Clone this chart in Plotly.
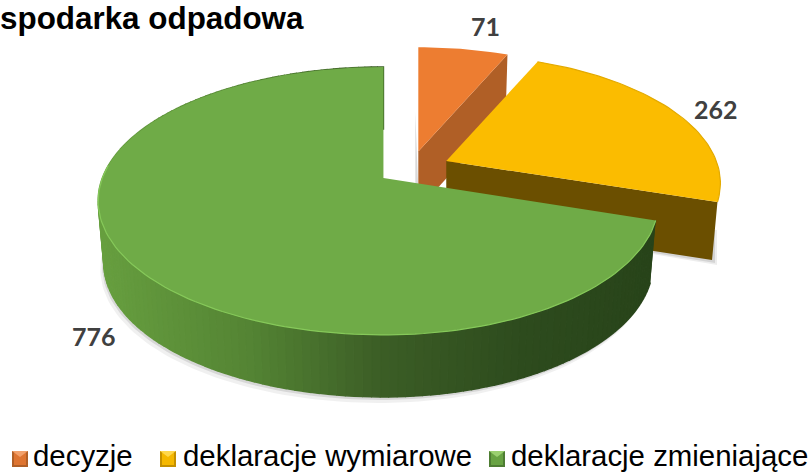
import math
import plotly.graph_objects as go

categories = ["decyzje", "deklaracje wymiarowe", "deklaracje zmieniające"]
values = [71, 262, 776]
title_text = "spodarka odpadowa"

top_colors = ["#ED7D31", "#FBBC00", "#6FAB47"]
legend_colors = ["#DE7430", "#F5B800", "#68A343"]
legend_light = ["#F2A06A", "#FFD84D", "#9BD070"]
legend_dark = ["#B05F26", "#C49000", "#4E7D33"]
wall_colors = ["#B05F26", "#6B4F00", None]
rim_colors = ["#ED7D31", "#E3AA00", "#86C95A"]

CX, CY = 413, 168      # pie centre on the page
A, B = 281, 130        # horizontal / vertical radius
K = 0.172              # perspective strength
EXPLODE = 0.13
DEPTHS = [58, 58, 62]
Q = 0.98
RIGHT_SQUEEZE = 0.965  # the near slice narrows on its right-hand side

fig = go.Figure()


def poly(xs, ys, color, line=None, width=1):
    fig.add_trace(go.Scatter(
        x=xs, y=ys, mode="lines", fill="toself", fillcolor=color,
        line=dict(color=line or color, width=width if line else 0),
        hoverinfo="skip", showlegend=False))


def mix(c1, c2, t):
    return "rgb(%d,%d,%d)" % tuple(c1[i] + (c2[i] - c1[i]) * t for i in range(3))


def green_wall(x):
    stops = [(95, (104, 160, 64)), (250, (84, 132, 52)), (380, (60, 94, 38)),
             (520, (46, 76, 30)), (660, (40, 68, 26))]
    for (x0, c0), (x1, c1) in zip(stops, stops[1:]):
        if x <= x1:
            return mix(c0, c1, max(0, (x - x0) / (x1 - x0)))
    return mix(stops[-1][1], stops[-1][1], 0)


total = sum(values)
slices = []
start = 0.0
for i, val in enumerate(values):
    end = start + val / total * 2 * math.pi
    mid = (start + end) / 2
    ou, ov = EXPLODE * math.sin(mid), EXPLODE * math.cos(mid)
    scale = 1 - 0.3 * (ov + 0.076)
    ax, ay = CX + A * ou - (2 if i == 0 else 0), CY - B * ov

    def top(th, i=i, ax=ax, ay=ay, scale=scale):
        u, v = math.sin(th), math.cos(th)
        s = scale / (1 + K * v)
        sq = RIGHT_SQUEEZE if (i == 2 and u > 0) else 1
        return ax + u * A * s * sq, ay - v * B * s

    def low(p, ax=ax, d=DEPTHS[i]):
        return ax + (p[0] - ax) * Q, p[1] + d

    n = max(8, int(val / total * 240))
    ths = [start + (end - start) * j / n for j in range(n + 1)]
    arc = [top(t) for t in ths]
    slices.append(dict(i=i, ax=ax, ay=ay, arc=arc, low=low, ths=ths))
    start = end

for sl in slices:
    i, ax, ay, arc, low, ths = sl["i"], sl["ax"], sl["ay"], sl["arc"], sl["low"], sl["ths"]
    apex = (ax, ay)
    if i < 2:
        if i == 1:
            for off, alpha in ((5, 0.07), (3, 0.10)):
                a_, e_ = low(apex), low(arc[-1])
                poly([a_[0], e_[0] + off, e_[0] + off, a_[0]],
                     [a_[1], e_[1] + off, e_[1] - 30, a_[1] - 30],
                     "rgba(0,0,0,%g)" % alpha)
        else:
            poly([ax - 3, ax - 3, ax], [ay - 40, ay + 40, ay + 40], "rgba(0,0,0,0.15)")
        edge = arc[-1]
        pts = [apex, edge, low(edge), low(apex)]
        poly([p[0] for p in pts], [p[1] for p in pts], wall_colors[i])
    else:
        vis = list(arc)
        lows = [low(p) for p in vis]
        for off, alpha in ((6, 0.06), (3, 0.10)):
            sx = [p[0] - off * 0.6 for p in lows] + [p[0] for p in vis[::-1]]
            sy = [p[1] + off for p in lows] + [p[1] for p in vis[::-1]]
            poly(sx, sy, "rgba(0,0,0,%g)" % alpha)
        for p, q, lp, lq in zip(vis, vis[1:], lows, lows[1:]):
            c = green_wall((p[0] + q[0]) / 2)
            poly([p[0], q[0], lq[0], lp[0]], [p[1], q[1], lq[1], lp[1]], c, c, 1.5)
    xs = [ax] + [p[0] for p in arc] + [ax]
    ys = [ay] + [p[1] for p in arc] + [ay]
    poly(xs, ys, top_colors[i])
    # bevel highlight along the near part of the rim only
    rim = [p for p, t in zip(arc, ths) if i == 1 or math.cos(t) < 0.1]
    if i == 0:
        rim = []
    if rim:
        fig.add_trace(go.Scatter(
            x=[p[0] for p in rim], y=[p[1] for p in rim], mode="lines",
            line=dict(color=rim_colors[i], width=1.2),
            hoverinfo="skip", showlegend=False))

for val, (lx, ly) in zip(values, [(485, 26), (716, 109), (94, 336)]):
    fig.add_annotation(x=lx, y=ly, xref="x", yref="y", text="<b>%d</b>" % val,
                       showarrow=False, font=dict(family="Lato", size=25, color="#404040"))

fig.add_annotation(x=0, y=18, xref="x", yref="y", xanchor="left", yanchor="middle",
                   text="<b>%s</b>" % title_text, showarrow=False, borderpad=0, borderwidth=0,
                   font=dict(family="Liberation Sans", size=31.4, color="#000000"))

# legend row
for name, x_sw, x_txt, c, cl, cd in zip(categories, [12, 160, 489], [32, 182, 510],
                                        legend_colors, legend_light, legend_dark):
    y0, y1 = 451, 467
    x1 = x_sw + 16
    fig.add_shape(type="rect", xref="x", yref="y", x0=x_sw, x1=x1, y0=y0, y1=y1,
                  fillcolor=cd, line_width=0)
    fig.add_shape(type="rect", xref="x", yref="y", x0=x_sw + 2, x1=x1 - 2, y0=y0 + 2, y1=y1 - 2,
                  fillcolor=c, line_width=0)
    fig.add_shape(type="path", xref="x", yref="y",
                  path=f"M{x_sw},{y0} L{x1},{y0} L{x_sw + 8},{y0 + 6} Z",
                  fillcolor=cl, line_width=0)
    fig.add_annotation(x=x_txt, y=455.5, xref="x", yref="y", xanchor="left", yanchor="middle",
                       text=name, showarrow=False, borderpad=0,
                       font=dict(family="Liberation Sans", size=29.4, color="#000000"))

fig.update_layout(
    width=809, height=473, margin=dict(l=0, r=0, t=0, b=0),
    paper_bgcolor="white", plot_bgcolor="white", showlegend=False,
    xaxis=dict(range=[0, 809], visible=False, fixedrange=True),
    yaxis=dict(range=[473, 0], visible=False, fixedrange=True),
)
fig.write_html("out.html", config=dict(displayModeBar=False),
               post_script="document.body.style.margin='0';")
